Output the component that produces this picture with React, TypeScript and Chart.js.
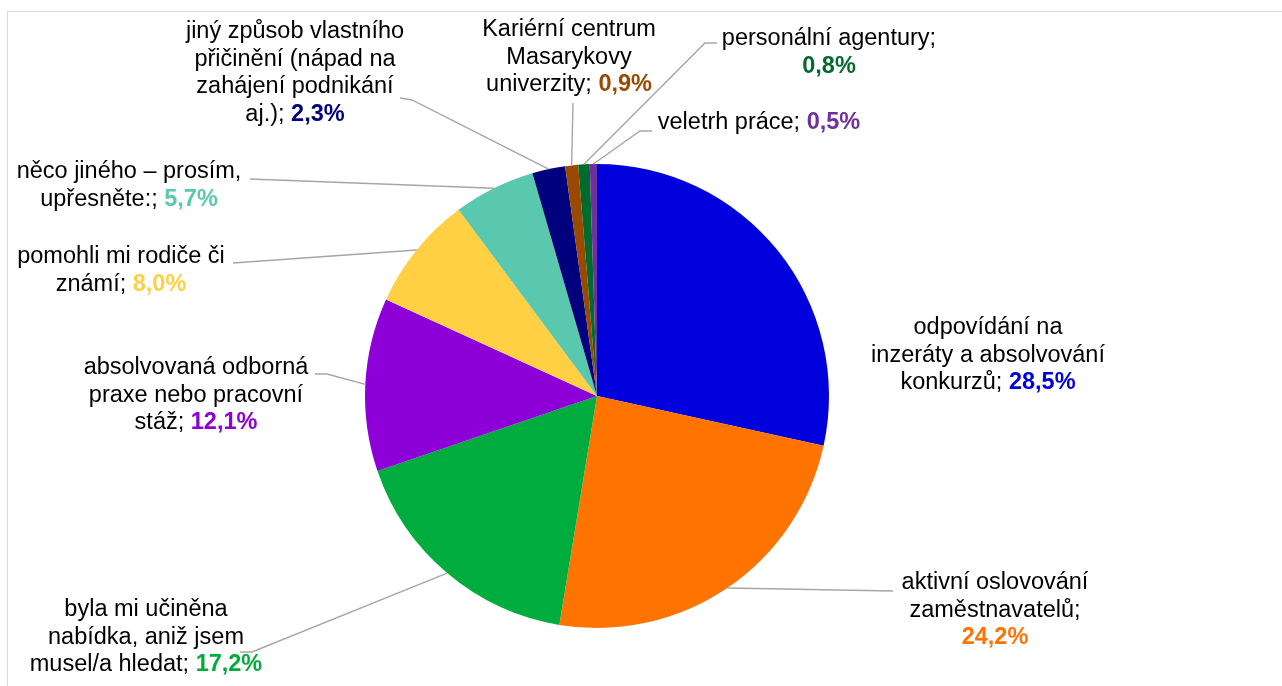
import React, { useEffect, useRef } from "react";
import { Chart, registerables } from "chart.js";

Chart.register(...registerables);

// ---- Data ----
const CATEGORY_LINES: string[][] = [
  ["odpovídání na", "inzeráty a absolvování", "konkurzů"],
  ["aktivní oslovování", "zaměstnavatelů"],
  ["byla mi učiněna", "nabídka, aniž jsem", "musel/a hledat"],
  ["absolvovaná odborná", "praxe nebo pracovní", "stáž"],
  ["pomohli mi rodiče či", "známí"],
  ["něco jiného – prosím,", "upřesněte:"],
  ["jiný způsob vlastního", "přičinění (nápad na", "zahájení podnikání", "aj.)"],
  ["Kariérní centrum", "Masarykovy", "univerzity"],
  ["personální agentury"],
  ["veletrh práce"],
];
const CATEGORIES: string[] = CATEGORY_LINES.map((l) => l.join(" "));
const VALUES: number[] = [28.5, 24.2, 17.2, 12.1, 8.0, 5.7, 2.3, 0.9, 0.8, 0.5];
const COLORS: string[] = [
  "#0000DC",
  "#FF7300",
  "#00AC3E",
  "#8E00D8",
  "#FFD043",
  "#5AC8AF",
  "#00007F",
  "#9A4A00",
  "#006B2D",
  "#7030A0",
];
// whether the percentage goes on its own line
const PCT_OWN_LINE: boolean[] = [false, true, false, false, false, false, false, false, true, false];

// ---- Label layout (relative to pie centre) ----
type Pt = [number, number];
const LABEL_TEXT_POS: Pt[] = [
  [391, -68],
  [398, 187],
  [-451, 214],
  [-401, -28],
  [-476, -139],
  [-468, -224],
  [-302, -364],
  [-28, -366],
  [232, -357],
  [162, -273],
];
const LABEL_LEADERS: Pt[][] = [
  [],
  [[296, 195]],
  [[-345, 256], [-357, 256]],
  [[-270, -22], [-282, -22]],
  [[-364, -133]],
  [[-347, -217]],
  [[-185, -296], [-197, -298]],
  [[-24, -293]],
  [[108, -353], [120, -353]],
  [[43, -265], [55, -265]],
];

const FONT_FAMILY = '"Liberation Sans", Arial, sans-serif';
const FONT_SIZE = 23.5;
const LINE_H = 27.5;

const fmtPct = (v: number) => v.toFixed(1).replace(".", ",") + "%";

const labelPlugin = {
  id: "outsideLabels",
  afterDraw(chart: any) {
    const ctx: CanvasRenderingContext2D = chart.ctx;
    const meta = chart.getDatasetMeta(0);
    ctx.save();
    meta.data.forEach((arc: any, i: number) => {
      const { x, y, startAngle, endAngle, outerRadius } = arc.getProps(
        ["x", "y", "startAngle", "endAngle", "outerRadius"],
        true
      );
      const mid = (startAngle + endAngle) / 2;
      const leader = LABEL_LEADERS[i];
      if (leader.length) {
        ctx.beginPath();
        ctx.strokeStyle = "#A6A6A6";
        ctx.lineWidth = 1.4;
        ctx.moveTo(x + Math.cos(mid) * outerRadius, y + Math.sin(mid) * outerRadius);
        leader.forEach(([dx, dy]) => ctx.lineTo(x + dx, y + dy));
        ctx.stroke();
      }
      // text
      const cat = CATEGORY_LINES[i];
      const pct = fmtPct(VALUES[i]);
      const lines: { n: string; b: string }[] = cat.map((t) => ({ n: t, b: "" }));
      if (PCT_OWN_LINE[i]) {
        lines[lines.length - 1].n += ";";
        lines.push({ n: "", b: pct });
      } else {
        lines[lines.length - 1].n += "; ";
        lines[lines.length - 1].b = pct;
      }
      const [tdx, tdy] = LABEL_TEXT_POS[i];
      const cx = x + tdx;
      lines.forEach((ln, k) => {
        const ly = y + tdy + k * LINE_H;
        ctx.font = `${FONT_SIZE}px ${FONT_FAMILY}`;
        const wn = ctx.measureText(ln.n).width;
        ctx.font = `bold ${FONT_SIZE}px ${FONT_FAMILY}`;
        const wb = ctx.measureText(ln.b).width;
        const x0 = cx - (wn + wb) / 2;
        ctx.textBaseline = "middle";
        ctx.textAlign = "left";
        ctx.font = `${FONT_SIZE}px ${FONT_FAMILY}`;
        ctx.fillStyle = "#000000";
        ctx.fillText(ln.n, x0, ly);
        if (ln.b) {
          ctx.font = `bold ${FONT_SIZE}px ${FONT_FAMILY}`;
          ctx.fillStyle = COLORS[i];
          ctx.fillText(ln.b, x0 + wn, ly);
        }
      });
    });
    ctx.restore();
  },
};

export default function App() {
  const ref = useRef<HTMLCanvasElement | null>(null);
  useEffect(() => {
    if (!ref.current) return;
    const chart = new Chart(ref.current, {
      type: "pie",
      data: {
        labels: CATEGORIES,
        datasets: [
          {
            data: VALUES,
            backgroundColor: COLORS,
            borderWidth: 0,
          },
        ],
      },
      options: {
        responsive: false,
        animation: false,
        layout: { padding: { left: 365, right: 453, top: 164, bottom: 58 } },
        plugins: {
          legend: { display: false },
          tooltip: { enabled: false },
        },
      },
      plugins: [labelPlugin],
    });
    return () => chart.destroy();
  }, []);
  return (
    <div style={{ position: "absolute", left: 0, top: 0, width: 1282, height: 686, overflow: "hidden", background: "#fff" }}>
      <div
        style={{
          position: "absolute",
          left: 7,
          top: 11,
          width: 1300,
          height: 700,
          border: "1px solid #D9D9D9",
          boxSizing: "border-box",
        }}
      />
      <canvas ref={ref} width={1282} height={686} style={{ position: "absolute", left: 0, top: 0, width: 1282, height: 686 }} />
    </div>
  );
}
